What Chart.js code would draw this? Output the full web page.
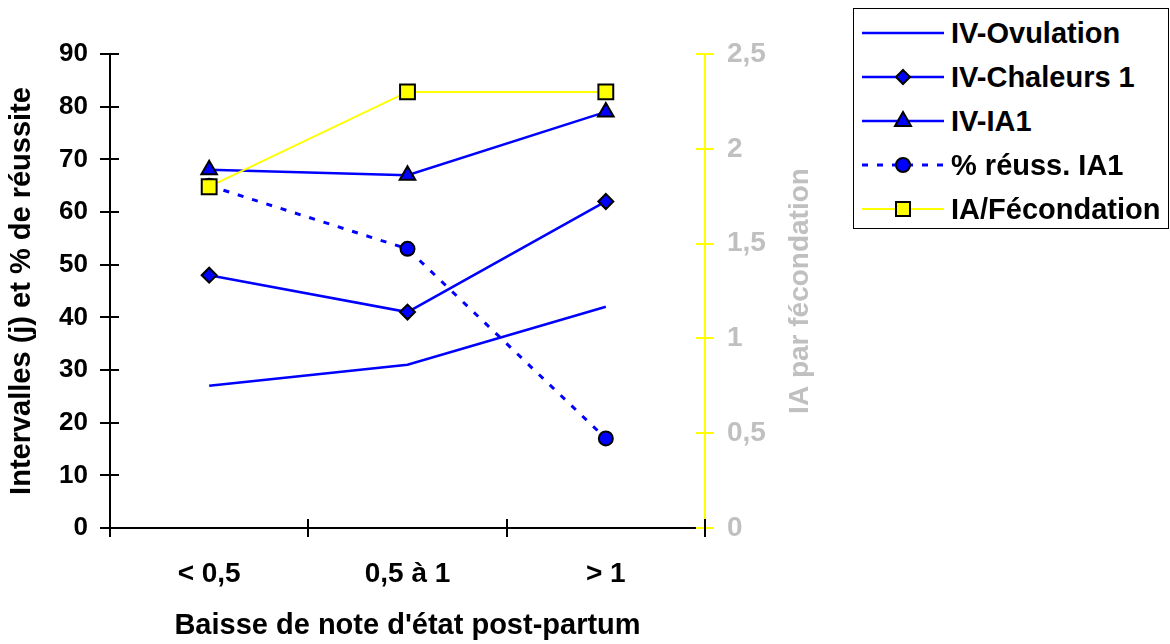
<!DOCTYPE html>
<html>
<head>
<meta charset="utf-8">
<script src="https://cdn.jsdelivr.net/npm/chart.js@4/dist/chart.umd.min.js"></script>
<style>
  html, body { margin: 0; padding: 0; background: #fff; }
  #wrap { position: relative; width: 1170px; height: 644px; }
  #legend {
    position: absolute; left: 853px; top: 8px; width: 314px; height: 219px;
    border: 1px solid #000; background: #fff;
    font: bold 29px "Liberation Sans", Arial, sans-serif; color: #000;
  }
  .item { position: absolute; left: 0; height: 44px; display: flex; align-items: center; white-space: nowrap; }
  .item svg { margin-left: 8px; margin-right: 7px; }
</style>
</head>
<body>
<div id="wrap">
  <canvas id="chart" width="1170" height="644"></canvas>
  <div id="legend"></div>
</div>
<script>
// categories and series
const categories = ['< 0,5', '0,5 à 1', '> 1'];
const ivOvulation = [27, 31, 42];
const ivChaleurs1 = [48, 41, 62];
const ivIA1 = [68, 67, 79];
const reussIA1 = [65, 53, 17];
const iaFecondation = [1.8, 2.3, 2.3];

const BLUE = '#0000ff';
const YELLOW = '#ffff00';
const GREY = '#c0c0c0';
const FONT = '"Liberation Sans", Arial, sans-serif';

Chart.defaults.font.family = FONT;
Chart.defaults.font.weight = 'bold';

const datasets = [
  { label: 'IV-Ovulation', data: ivOvulation, yAxisID: 'y', borderColor: BLUE, borderWidth: 2.5,
    pointRadius: 0, marker: null, order: 1 },
  { label: 'IV-Chaleurs 1', data: ivChaleurs1, yAxisID: 'y', borderColor: BLUE, borderWidth: 2.5,
    pointStyle: 'rectRot', pointRadius: 7.5, backgroundColor: BLUE, pointBorderColor: '#000', pointBorderWidth: 2,
    marker: 'diamond', order: 1 },
  { label: 'IV-IA1', data: ivIA1, yAxisID: 'y', borderColor: BLUE, borderWidth: 2.5,
    pointStyle: 'triangle', pointRadius: 9, backgroundColor: BLUE, pointBorderColor: '#000', pointBorderWidth: 2,
    marker: 'triangle', order: 1 },
  { label: '% réuss. IA1', data: reussIA1, yAxisID: 'y', borderColor: BLUE, borderWidth: 3, borderDash: [6, 9],
    pointStyle: 'circle', pointRadius: 7, backgroundColor: BLUE, pointBorderColor: '#000', pointBorderWidth: 2,
    marker: 'circle', order: 1 },
  { label: 'IA/Fécondation', data: iaFecondation, yAxisID: 'y1', borderColor: YELLOW, borderWidth: 2,
    pointStyle: 'rect', pointRadius: 10.5, backgroundColor: YELLOW, pointBorderColor: '#000', pointBorderWidth: 2,
    marker: 'square', order: 0 }
];
datasets.forEach(d => { d.fill = false; d.tension = 0; d.pointBackgroundColor = d.backgroundColor; });

// tick marks that cross the axis lines, plus the right axis title read bottom-to-top
const axisExtras = {
  id: 'axisExtras',
  afterDraw(chart) {
    const ctx = chart.ctx;
    const { x, y, y1 } = chart.scales;
    const seg = (x0, y0, x1, y1_) => { ctx.beginPath(); ctx.moveTo(x0, y0); ctx.lineTo(x1, y1_); ctx.stroke(); };
    ctx.save();
    ctx.strokeStyle = YELLOW;
    ctx.lineWidth = 2;
    y1.ticks.forEach((t, i) => {
      const py = Math.round(y1.getPixelForTick(i));
      seg(y1.left - 9, py, y1.left + 9, py);
    });
    ctx.strokeStyle = '#000';
    ctx.lineWidth = 2;
    y.ticks.forEach((t, i) => {
      const py = Math.round(y.getPixelForTick(i));
      seg(y.right - 10, py, y.right + 9, py);
    });
    for (let i = 0; i <= categories.length; i++) {
      const px = Math.round(x.getPixelForValue(i - 0.5));
      seg(px, x.top - 9, px, x.top + 9);
    }
    ctx.translate(y1.left + 95, (y1.top + y1.bottom) / 2);
    ctx.rotate(-Math.PI / 2);
    ctx.fillStyle = GREY;
    ctx.font = 'bold 28px ' + FONT;
    ctx.textAlign = 'center';
    ctx.textBaseline = 'middle';
    ctx.fillText('IA par fécondation', 0, 0);
    ctx.restore();
  }
};

new Chart(document.getElementById('chart'), {
  type: 'line',
  data: { labels: categories, datasets },
  options: {
    responsive: false,
    animation: false,
    devicePixelRatio: 1,
    layout: { padding: { left: 0, right: 335, top: 54, bottom: 0 } },
    plugins: { legend: { display: false }, tooltip: { enabled: false } },
    scales: {
      x: {
        type: 'category',
        offset: true,
        grid: { offset: true, drawOnChartArea: false, drawTicks: false },
        border: { color: '#000', width: 2 },
        ticks: { color: '#000', font: { size: 28, weight: 'bold' }, padding: 29, maxRotation: 0 },
        title: { display: true, text: "Baisse de note d'état post-partum", color: '#000',
                 font: { size: 29, weight: 'bold' }, padding: { top: 0, bottom: 1 } },
        afterFit: s => { s.height = 116; }
      },
      y: {
        position: 'left',
        min: 0, max: 90,
        grid: { drawOnChartArea: false, drawTicks: false },
        border: { color: '#000', width: 2 },
        ticks: { stepSize: 10, color: '#000', font: { size: 26, weight: 'bold' }, padding: 22 },
        title: { display: true, text: 'Intervalles (j) et % de réussite', color: '#000',
                 font: { size: 29, weight: 'bold' }, padding: { top: 5, bottom: 0 } },
        afterFit: s => { s.width = 110; }
      },
      y1: {
        position: 'right',
        min: 0, max: 2.5,
        grid: { drawOnChartArea: false, drawTicks: false },
        border: { color: YELLOW, width: 2 },
        ticks: { stepSize: 0.5, color: GREY, font: { size: 28, weight: 'bold' }, padding: 22,
                 callback: v => String(v).replace('.', ',') },
        title: { display: false },
        afterFit: s => { s.width = 130; }
      }
    }
  },
  plugins: [axisExtras]
});

// legend box built from the datasets
function markerSvg(d) {
  const c = d.backgroundColor;
  const st = 'stroke="#000" stroke-width="2"';
  switch (d.marker) {
    case 'diamond': return `<polygon points="41,8 48,15 41,22 34,15" fill="${c}" ${st}/>`;
    case 'triangle': return `<polygon points="41,6 49,20 33,20" fill="${c}" ${st}/>`;
    case 'circle': return `<circle cx="41" cy="15" r="7" fill="${c}" ${st}/>`;
    case 'square': return `<rect x="34" y="8" width="14" height="14" fill="${c}" ${st}/>`;
    default: return '';
  }
}
const legend = document.getElementById('legend');
datasets.forEach((d, i) => {
  const dash = d.borderDash ? `stroke-dasharray="${d.borderDash.join(' ')}"` : '';
  const row = document.createElement('div');
  row.className = 'item';
  row.style.top = (2 + 44 * i) + 'px';
  row.innerHTML =
    `<svg width="82" height="30"><line x1="0" y1="15" x2="82" y2="15" stroke="${d.borderColor}" stroke-width="${d.borderWidth}" ${dash}/>` +
    markerSvg(d) + `</svg><span>${d.label}</span>`;
  legend.appendChild(row);
});
</script>
</body>
</html>
